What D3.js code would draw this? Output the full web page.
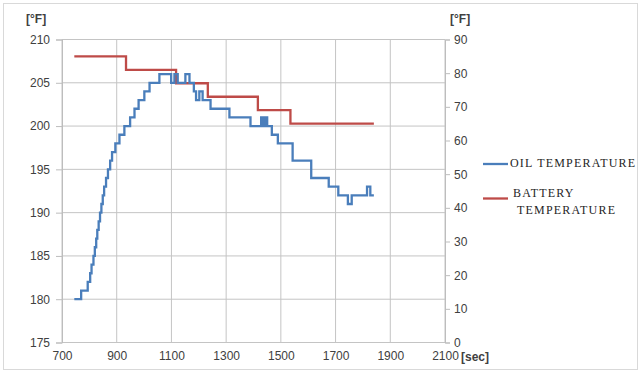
<!DOCTYPE html>
<html>
<head>
<meta charset="utf-8">
<script src="https://cdn.jsdelivr.net/npm/d3@7"></script>
<style>
  body { margin: 0; background: #fff; }
  svg { display: block; }
  .tick text { font-family: "Liberation Sans", Arial, sans-serif; font-size: 12px; fill: #404040; }
</style>
</head>
<body>
<svg id="chart" width="641" height="372"></svg>
<script>
// oil temperature, step changes [sec] -> [°F]
var oilTime = [745, 770, 794, 803, 808, 815, 820, 825, 829, 834, 839, 844, 849, 854, 861, 868, 876, 883, 895, 910,
    928, 949, 965, 980, 1001, 1020, 1056, 1099, 1111, 1123, 1151, 1166, 1182, 1190, 1202, 1214, 1243, 1312, 1389,
    1428, 1436, 1442, 1450, 1467, 1489, 1543, 1611, 1675, 1710, 1745, 1759, 1815, 1827, 1840];
var oilTemp = [180, 181, 182, 183, 184, 185, 186, 187, 188, 189, 190, 191, 192, 193, 194, 195, 196, 197, 198, 199,
    200, 201, 202, 203, 204, 205, 206, 205, 206, 205, 206, 205, 204, 203, 204, 203, 202, 201, 200,
    201, 200, 201, 200, 199, 198, 196, 194, 193, 192, 191, 192, 193, 192, 192];

// battery temperature, right axis
var battTime = [745, 934, 1117, 1233, 1416, 1535, 1840];
var battTemp = [85, 81, 77, 73, 69, 65, 65];

var xTicks = [700, 900, 1100, 1300, 1500, 1700, 1900, 2100];
var leftTicks = [175, 180, 185, 190, 195, 200, 205, 210];
var rightTicks = [0, 10, 20, 30, 40, 50, 60, 70, 80, 90];

var legendNames = ["OIL TEMPERATURE", "BATTERY TEMPERATURE"];
var colors = ["#4a7ebb", "#be4b48"];

var margin = { top: 39.5, left: 62, right: 196, bottom: 29.5 };
var W = 641, H = 372;
var width = W - margin.left - margin.right,
    height = H - margin.top - margin.bottom;

var svg = d3.select("#chart");

// outer frame
svg.append("rect")
    .attr("x", 3.5).attr("y", 3.5)
    .attr("width", W - 7).attr("height", H - 6)
    .style("fill", "none")
    .style("stroke", "#d9d9d9");

var g = svg.append("g")
    .attr("transform", "translate(" + margin.left + "," + margin.top + ")");

var x = d3.scaleLinear().domain([700, 2100]).range([0, width]);
var yL = d3.scaleLinear().domain([175, 210]).range([height, 0]);
var yR = d3.scaleLinear().domain([0, 90]).range([height, 0]);

// grid
g.append("g")
    .selectAll("line")
    .data(xTicks)
    .enter().append("line")
    .attr("x1", d => x(d)).attr("x2", d => x(d))
    .attr("y1", 0).attr("y2", height)
    .style("stroke", "#c4c4c4");

g.append("g")
    .selectAll("line")
    .data(leftTicks)
    .enter().append("line")
    .attr("x1", 0).attr("x2", width)
    .attr("y1", d => yL(d)).attr("y2", d => yL(d))
    .style("stroke", "#c4c4c4");

// axes
var axL = g.append("g")
    .call(d3.axisLeft(yL).tickValues(leftTicks).tickSize(6).tickPadding(6));
var axR = g.append("g")
    .attr("transform", "translate(" + width + ",0)")
    .call(d3.axisRight(yR).tickValues(rightTicks).tickSize(5).tickPadding(4));
var axB = g.append("g")
    .attr("transform", "translate(0," + height + ")")
    .call(d3.axisBottom(x).tickValues(xTicks).tickSize(0).tickPadding(9).tickFormat(d3.format("d")));

[axL, axR, axB].forEach(function (a) {
    a.select(".domain").style("stroke", "#bdbdbd");
    a.selectAll(".tick line").style("stroke", "#bdbdbd");
    a.selectAll(".tick text").style("fill", "#404040");
});
axB.select(".domain").remove();

// unit labels
svg.append("text")
    .attr("x", 26).attr("y", 23)
    .style("font-family", "Liberation Sans, Arial, sans-serif")
    .style("font-size", "12px").style("font-weight", "bold").style("fill", "#404040")
    .text("[°F]");
svg.append("text")
    .attr("x", 450).attr("y", 23)
    .style("font-family", "Liberation Sans, Arial, sans-serif")
    .style("font-size", "12px").style("font-weight", "bold").style("fill", "#404040")
    .text("[°F]");
svg.append("text")
    .attr("x", 461).attr("y", 361)
    .style("font-family", "Liberation Sans, Arial, sans-serif")
    .style("font-size", "12px").style("font-weight", "bold").style("fill", "#404040")
    .text("[sec]");

// data lines
var oilLine = d3.line()
    .x(d => x(d[0])).y(d => yL(d[1]))
    .curve(d3.curveStepAfter);
var battLine = d3.line()
    .x(d => x(d[0])).y(d => yR(d[1]))
    .curve(d3.curveStepAfter);

g.append("path")
    .datum(d3.zip(battTime, battTemp))
    .attr("d", battLine)
    .style("fill", "none")
    .style("stroke", colors[1])
    .style("stroke-width", 2.3);

g.append("path")
    .datum(d3.zip(oilTime, oilTemp))
    .attr("d", oilLine)
    .style("fill", "none")
    .style("stroke", colors[0])
    .style("stroke-width", 2.3);

// legend
var leg = svg.append("g");
leg.append("line")
    .attr("x1", 483).attr("x2", 508).attr("y1", 164).attr("y2", 164)
    .style("stroke", colors[0]).style("stroke-width", 2.3);
leg.append("line")
    .attr("x1", 483).attr("x2", 508).attr("y1", 198.5).attr("y2", 198.5)
    .style("stroke", colors[1]).style("stroke-width", 2.3);

var legFont = function (t) {
    t.style("font-family", "Liberation Serif, 'Times New Roman', serif")
        .style("font-size", "12px")
        .style("letter-spacing", "1.2px")
        .style("fill", "#262626");
};
leg.append("text").attr("x", 510).attr("y", 167).text(legendNames[0]).call(legFont);
var bt = legendNames[1].split(" ");
leg.append("text").attr("x", 513).attr("y", 197).text(bt[0]).call(legFont);
leg.append("text").attr("x", 517).attr("y", 213.5).text(bt[1]).call(legFont);
</script>
</body>
</html>
